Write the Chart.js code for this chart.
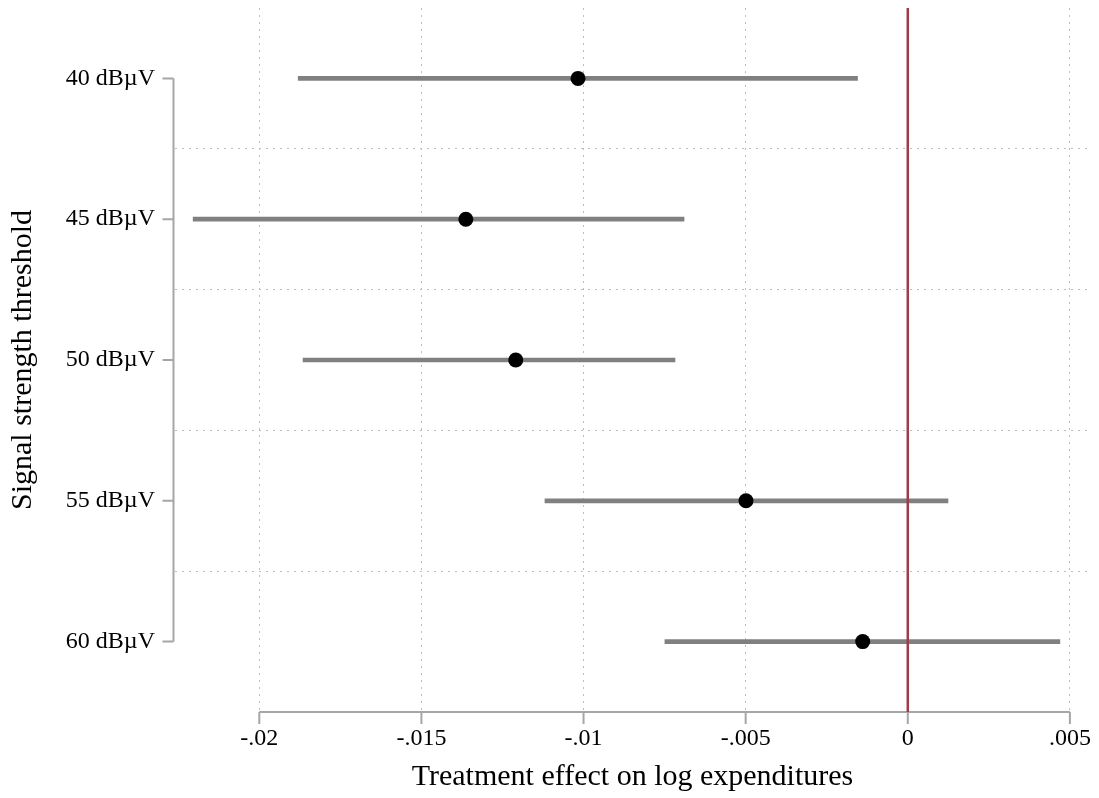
<!DOCTYPE html>
<html>
<head>
<meta charset="utf-8">
<script src="https://cdn.jsdelivr.net/npm/chart.js@4/dist/chart.umd.min.js"></script>
<style>
  html, body { margin: 0; padding: 0; background: #fff; }
  canvas { display: block; }
</style>
</head>
<body>
<canvas id="chart" width="1099" height="798"></canvas>
<script>
/* Coefficient plot: treatment effect by signal strength threshold,
   point estimates with confidence intervals. */

const thresholds = ['40 dBµV', '45 dBµV', '50 dBµV', '55 dBµV', '60 dBµV'];
const estimates  = [-0.01017, -0.01363, -0.01209, -0.00499, -0.00139];
const ciLow      = [-0.01880, -0.02204, -0.01865, -0.01119, -0.00749];
const ciHigh     = [-0.00155, -0.00690, -0.00718,  0.00124,  0.00469];
const xTicks     = [-0.02, -0.015, -0.01, -0.005, 0, 0.005];

const axisGray = '#a6a6a6';
const gridGray = '#bdbdbd';
const refRed = '#9e3d4a';
const serif = "'Liberation Serif', 'Times New Roman', serif";

// Stata-like "-.015" / ".005" labels
function stataNum(v) {
    if (Math.abs(v) < 1e-12) return '0';
    const s = String(+v.toFixed(4));
    return s.replace(/^(-?)0\./, '$1.');
}

/* Axis lines that only span the tick range, tick marks on the category
   centres, and the red reference line at zero. */
const axesAndRef = {
    id: 'axesAndRef',
    afterDatasetsDraw(chart) {
        const { ctx, chartArea, scales: { x, y } } = chart;
        ctx.save();
        ctx.strokeStyle = axisGray;
        ctx.lineWidth = 2;
        ctx.lineCap = 'butt';

        const by = chartArea.bottom;
        ctx.beginPath();
        ctx.moveTo(x.getPixelForValue(xTicks[0]), by);
        ctx.lineTo(x.getPixelForValue(xTicks[xTicks.length - 1]), by);
        xTicks.forEach(v => {
            const px = x.getPixelForValue(v);
            ctx.moveTo(px, by);
            ctx.lineTo(px, by + 12);
        });
        ctx.stroke();

        const lx = chartArea.left - 1.5;
        ctx.beginPath();
        ctx.moveTo(lx, y.getPixelForValue(0));
        ctx.lineTo(lx, y.getPixelForValue(thresholds.length - 1));
        thresholds.forEach((t, i) => {
            const py = y.getPixelForValue(i);
            ctx.moveTo(lx, py);
            ctx.lineTo(lx - 11, py);
        });
        ctx.stroke();

        const zx = x.getPixelForValue(0);
        ctx.strokeStyle = refRed;
        ctx.lineWidth = 2.5;
        ctx.beginPath();
        ctx.moveTo(zx, chartArea.top);
        ctx.lineTo(zx, chartArea.bottom);
        ctx.stroke();
        ctx.restore();
    }
};

new Chart(document.getElementById('chart'), {
    type: 'bar',
    data: {
        labels: thresholds,
        datasets: [
            {
                type: 'line',
                data: estimates,
                showLine: false,
                pointRadius: 7.5,
                pointHoverRadius: 7.5,
                pointBackgroundColor: '#000',
                pointBorderWidth: 0
            },
            {
                type: 'bar',
                data: ciLow.map((lo, i) => [lo, ciHigh[i]]),
                backgroundColor: '#808080',
                borderWidth: 0,
                borderSkipped: false,
                barThickness: 4
            }
        ]
    },
    options: {
        indexAxis: 'y',
        responsive: false,
        animation: false,
        events: [],
        layout: { padding: { top: 8, right: 9, left: 0, bottom: 0 } },
        plugins: { legend: { display: false }, tooltip: { enabled: false } },
        scales: {
            x: {
                type: 'linear',
                min: -0.0226,
                max: 0.00562,
                afterBuildTicks: s => { s.ticks = xTicks.map(v => ({ value: v })); },
                afterFit: s => { s.height = 86; s.paddingLeft = 0; s.paddingRight = 0; },
                border: { display: false, dash: [2, 5] },
                grid: { color: gridGray, lineWidth: 1, drawTicks: false },
                ticks: {
                    padding: 12.5,
                    color: '#000',
                    font: { family: serif, size: 24 },
                    maxRotation: 0,
                    autoSkip: false,
                    callback: v => stataNum(v)
                },
                title: {
                    display: true,
                    text: 'Treatment effect on log expenditures',
                    color: '#000',
                    font: { family: serif, size: 30 },
                    padding: { top: 0, bottom: 3 }
                }
            },
            y: {
                type: 'category',
                offset: true,
                afterFit: s => { s.width = 175; s.paddingTop = 0; s.paddingBottom = 0; },
                border: { display: false, dash: [2, 5] },
                grid: {
                    offset: true,
                    drawTicks: false,
                    lineWidth: 1,
                    color: c => (c.index >= 1 && c.index <= thresholds.length - 1) ? gridGray : 'rgba(0,0,0,0)'
                },
                ticks: {
                    padding: 20,
                    color: '#000',
                    font: { family: serif, size: 24 }
                },
                title: {
                    display: true,
                    text: 'Signal strength threshold',
                    color: '#000',
                    font: { family: serif, size: 30 },
                    padding: { top: 5, bottom: 0 }
                }
            }
        }
    },
    plugins: [axesAndRef]
});
</script>
</body>
</html>
